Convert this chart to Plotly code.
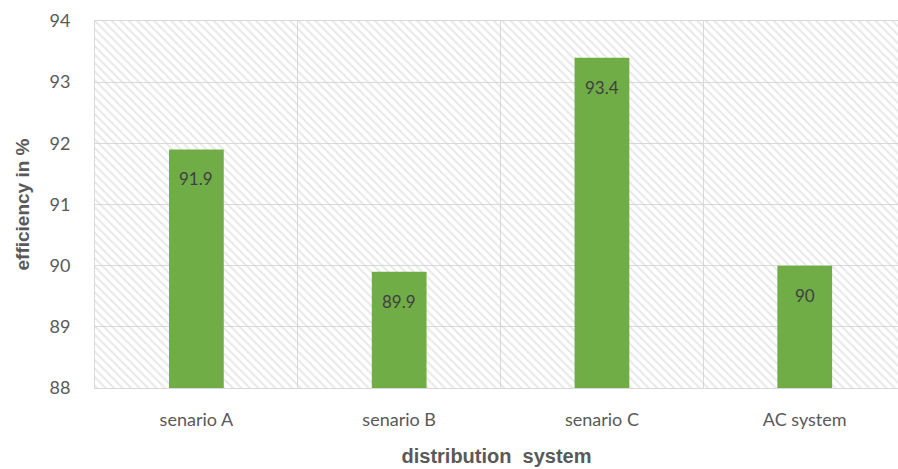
import plotly.graph_objects as go

categories = ["senario A", "senario B", "senario C", "AC system"]
efficiency = [91.9, 89.9, 93.4, 90]
y_min, y_max = 88, 94

fig = go.Figure()

# hatched plot-area background
fig.add_trace(go.Bar(
    x=categories, y=[y_max - y_min] * len(categories), base=[y_min] * len(categories),
    width=[1] * len(categories),
    marker=dict(color="rgba(0,0,0,0)", line=dict(width=0),
                pattern=dict(shape="\\", size=6, solidity=0.35, fgcolor="#d2d2d2",
                             bgcolor="rgba(0,0,0,0)", fillmode="overlay")),
    hoverinfo="skip", showlegend=False,
))

fig.add_trace(go.Bar(
    x=categories, y=[v - y_min for v in efficiency], base=[y_min] * len(categories),
    width=[0.27] * len(categories),
    marker=dict(color="#70AD47", line=dict(width=0)),
    showlegend=False,
))

for c, v in zip(categories, efficiency):
    fig.add_annotation(x=c, y=v, text=f"{v:g}", showarrow=False, yanchor="top", yshift=-17,
                       font=dict(family="Lato, Liberation Sans, sans-serif", size=17, color="#404040"))

fig.update_layout(
    width=898, height=469,
    margin=dict(l=95, r=0, t=21, b=81),
    paper_bgcolor="white", plot_bgcolor="white",
    barmode="overlay",
    font=dict(family="Lato, Liberation Sans, sans-serif", color="#595959", size=17),
)
fig.update_xaxes(
    range=[-0.5, 3.46], tickson="boundaries", showgrid=True, gridcolor="#d9d9d9", gridwidth=1,
    showline=True, linecolor="#d9d9d9", mirror=True, ticks="",
    ticklabelstandoff=15,
    tickfont=dict(size=18, color="#595959"),
    title=dict(text="<b>distribution  system</b>", standoff=20,
               font=dict(family="Liberation Sans, Arial, sans-serif", size=20, color="#595959")),
)
fig.update_yaxes(
    range=[y_min, y_max], dtick=1, showgrid=True, gridcolor="#d9d9d9", gridwidth=1,
    zeroline=False, showline=True, linecolor="#d9d9d9", mirror=True, ticks="",
    ticklabelstandoff=20,
    tickfont=dict(size=18, color="#595959"),
    title=dict(text="<b>efficiency in %</b>", standoff=14,
               font=dict(family="Liberation Sans, Arial, sans-serif", size=19, color="#595959")),
)

fig.write_html("out.html")
